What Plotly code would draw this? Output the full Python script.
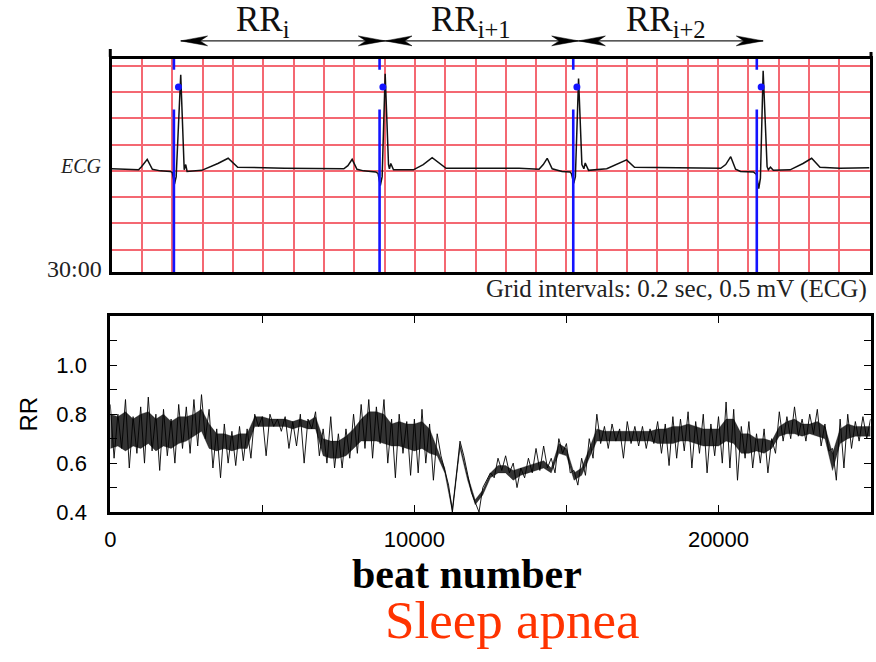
import plotly.graph_objects as go

# ---------------- Top panel: ECG strip ----------------
ecg_time_s = [0.000, 0.177, 0.196, 0.234, 0.268, 0.321, 0.386, 0.399, 0.414, 0.425,
              0.455, 0.473, 0.478, 0.488, 0.497, 0.594, 0.700, 0.768, 0.831, 1.139,
              1.531, 1.558, 1.586, 1.618, 1.662, 1.741, 1.757, 1.772, 1.784, 1.804,
              1.826, 1.832, 1.841, 1.859, 1.990, 2.055, 2.114, 2.206, 2.688, 2.819,
              2.847, 2.873, 2.906, 2.971, 3.024, 3.033, 3.048, 3.059, 3.080, 3.102,
              3.115, 3.124, 3.146, 3.266, 3.344, 3.397, 3.449, 4.018, 4.051, 4.084,
              4.116, 4.149, 4.234, 4.254, 4.269, 4.280, 4.298, 4.324, 4.332, 4.346,
              4.365, 4.476, 4.561, 4.618, 4.673, 4.804, 5.000]
ecg_mv = [0.04, 0.02, 0.08, 0.22, 0.03, 0.00, -0.01, -0.03, -0.25, -0.11,
          1.83, 0.08, 0.02, 0.12, -0.01, 0.01, 0.14, 0.24, 0.07, 0.05,
          0.04, 0.10, 0.22, 0.03, 0.00, -0.02, -0.05, -0.28, -0.11, 1.85,
          0.12, 0.04, 0.14, 0.02, 0.02, 0.12, 0.25, 0.05, 0.05, 0.03,
          0.12, 0.24, 0.04, -0.01, -0.02, -0.05, -0.24, -0.11, 1.76, 0.12,
          0.04, 0.15, 0.01, 0.04, 0.14, 0.21, 0.07, 0.05, 0.12, 0.27,
          0.03, -0.01, -0.02, -0.07, -0.34, -0.14, 1.91, 0.08, 0.02, 0.07,
          0.01, 0.02, 0.14, 0.24, 0.07, 0.05, 0.06]
r_peak_time_s = [0.455, 1.804, 3.080, 4.298]
detect_line_time_s = [0.410, 1.767, 3.045, 4.256]
detect_dot_time_s = [0.440, 1.789, 3.069, 4.285]
detect_dot_mv = [1.60, 1.60, 1.60, 1.60]
rr_labels = ["RR<sub>i</sub>", "RR<sub>i+1</sub>", "RR<sub>i+2</sub>"]
rr_label_time_s = [1.00, 2.37, 3.66]

# ---------------- Bottom panel: RR tachogram ----------------
beat_step = 125
rr_values = [
    0.84, 0.62, 0.80, 0.66, 0.86, 0.58, 0.79, 0.64, 0.83, 0.60, 0.87, 0.65, 0.80, 0.57, 0.82, 0.63, 0.78, 0.60, 0.84, 0.66,
    0.83, 0.64, 0.86, 0.67, 0.88, 0.70, 0.82, 0.58, 0.74, 0.54, 0.76, 0.60, 0.73, 0.59, 0.75, 0.61, 0.74, 0.62, 0.80, 0.75,
    0.79, 0.63, 0.80, 0.75, 0.78, 0.73, 0.79, 0.66, 0.77, 0.67, 0.80, 0.60, 0.78, 0.74, 0.81, 0.63, 0.74, 0.60, 0.79, 0.58,
    0.72, 0.58, 0.74, 0.62, 0.80, 0.64, 0.84, 0.66, 0.86, 0.62, 0.83, 0.68, 0.86, 0.60, 0.78, 0.54, 0.80, 0.64, 0.77, 0.55,
    0.78, 0.56, 0.82, 0.60, 0.76, 0.53, 0.72, 0.63, 0.57, 0.51, 0.40, 0.55, 0.69, 0.63, 0.56, 0.48, 0.44, 0.40, 0.50, 0.53,
    0.56, 0.54, 0.62, 0.57, 0.63, 0.56, 0.60, 0.50, 0.58, 0.54, 0.62, 0.56, 0.66, 0.57, 0.67, 0.58, 0.62, 0.56, 0.70, 0.64,
    0.68, 0.56, 0.57, 0.51, 0.62, 0.55, 0.70, 0.62, 0.80, 0.68, 0.75, 0.66, 0.76, 0.69, 0.74, 0.62, 0.77, 0.68, 0.75, 0.67,
    0.75, 0.66, 0.74, 0.68, 0.77, 0.64, 0.76, 0.59, 0.79, 0.62, 0.78, 0.65, 0.81, 0.58, 0.77, 0.64, 0.80, 0.56, 0.76, 0.63,
    0.79, 0.60, 0.85, 0.58, 0.82, 0.53, 0.75, 0.62, 0.77, 0.58, 0.72, 0.60, 0.74, 0.56, 0.70, 0.64, 0.81, 0.69, 0.79, 0.70,
    0.83, 0.71, 0.78, 0.69, 0.80, 0.72, 0.82, 0.67, 0.76, 0.65, 0.66, 0.53, 0.78, 0.58, 0.80, 0.66, 0.77, 0.69, 0.79, 0.70,
    0.78,
]
beat_number = [i * beat_step for i in range(len(rr_values))]

# dense core of the RR band (every 250 beats)
core_step = 250
rr_core_hi = [
    0.80, 0.79, 0.81, 0.78, 0.80, 0.81, 0.78, 0.80, 0.77, 0.79,
    0.79, 0.80, 0.82, 0.76, 0.72, 0.72, 0.71, 0.72, 0.72, 0.79,
    0.79, 0.78, 0.78, 0.78, 0.77, 0.78, 0.77, 0.79, 0.70, 0.69,
    0.69, 0.71, 0.74, 0.78, 0.81, 0.81, 0.80, 0.76, 0.77, 0.76,
    0.76, 0.77, 0.74, 0.66, 0.58, 0.42, 0.68, 0.55, 0.45, 0.49,
    0.56, 0.59, 0.59, 0.57, 0.58, 0.59, 0.60, 0.61, 0.58, 0.68,
    0.66, 0.56, 0.58, 0.66, 0.74, 0.73, 0.73, 0.73, 0.73, 0.73,
    0.73, 0.73, 0.74, 0.74, 0.75, 0.75, 0.76, 0.75, 0.74, 0.74,
    0.74, 0.78, 0.78, 0.72, 0.72, 0.70, 0.70, 0.69, 0.75, 0.77,
    0.78, 0.76, 0.76, 0.77, 0.75, 0.64, 0.74, 0.76, 0.75, 0.75,
    0.75,
]
rr_core_lo = [
    0.66, 0.67, 0.65, 0.67, 0.66, 0.68, 0.65, 0.67, 0.66, 0.68,
    0.69, 0.71, 0.73, 0.66, 0.65, 0.66, 0.65, 0.66, 0.66, 0.75,
    0.75, 0.75, 0.75, 0.75, 0.74, 0.75, 0.74, 0.74, 0.63, 0.62,
    0.62, 0.63, 0.66, 0.69, 0.69, 0.69, 0.68, 0.67, 0.67, 0.66,
    0.65, 0.66, 0.64, 0.63, 0.56, 0.40, 0.66, 0.53, 0.43, 0.47,
    0.54, 0.56, 0.56, 0.53, 0.55, 0.56, 0.57, 0.58, 0.56, 0.64,
    0.63, 0.53, 0.55, 0.62, 0.69, 0.69, 0.69, 0.69, 0.69, 0.69,
    0.69, 0.69, 0.68, 0.68, 0.68, 0.69, 0.69, 0.68, 0.67, 0.67,
    0.67, 0.69, 0.68, 0.64, 0.64, 0.65, 0.64, 0.66, 0.71, 0.72,
    0.72, 0.71, 0.72, 0.71, 0.70, 0.57, 0.68, 0.70, 0.71, 0.71,
    0.71,
]
core_beat_number = [i * core_step for i in range(len(rr_core_hi))]

x_tick_vals = [0, 10000, 20000]
x_tick_text = ["0", "10000", "20000"]
y_tick_vals = [0.4, 0.6, 0.8, 1.0]
y_tick_text = ["0.4", "0.6", "0.8", "1.0"]

# ---------------- Figure ----------------
W, H = 876, 662
def px_x(p):
    return p / W
def px_y(p):
    return 1 - p / H

ECG_YMIN, ECG_YMAX = -1.935, 2.14
GRID_RED = "rgb(244,104,114)"
BLUE = "rgb(20,20,255)"
SERIF = "Liberation Serif"
SANS = "Liberation Sans"

fig = go.Figure()

fig.add_trace(go.Scatter(x=ecg_time_s, y=ecg_mv, mode="lines",
                         line=dict(color="#111111", width=1.5),
                         xaxis="x", yaxis="y", hoverinfo="skip", showlegend=False))

bx, by = [], []
for t in detect_line_time_s:
    bx += [t, t, None, t, t, None]
    by += [ECG_YMAX, 1.93, None, 1.17, ECG_YMIN, None]
fig.add_trace(go.Scatter(x=bx, y=by, mode="lines", line=dict(color=BLUE, width=2.6),
                         xaxis="x", yaxis="y", hoverinfo="skip", showlegend=False))
fig.add_trace(go.Scatter(x=detect_dot_time_s, y=detect_dot_mv, mode="markers",
                         marker=dict(color=BLUE, size=7),
                         xaxis="x", yaxis="y", hoverinfo="skip", showlegend=False))

fig.add_trace(go.Scatter(x=core_beat_number, y=rr_core_lo, mode="lines",
                         line=dict(color="rgba(0,0,0,0.5)", width=0.6),
                         xaxis="x2", yaxis="y2", hoverinfo="skip", showlegend=False))
fig.add_trace(go.Scatter(x=core_beat_number, y=rr_core_hi, mode="lines", fill="tonexty",
                         fillcolor="rgba(15,15,15,0.85)",
                         line=dict(color="rgba(0,0,0,0.5)", width=0.6),
                         xaxis="x2", yaxis="y2", hoverinfo="skip", showlegend=False))
fig.add_trace(go.Scatter(x=beat_number, y=rr_values, mode="lines",
                         line=dict(color="black", width=0.9),
                         xaxis="x2", yaxis="y2", hoverinfo="skip", showlegend=False))

axis_common = dict(showline=True, linecolor="black", linewidth=3, zeroline=False)

fig.update_layout(
    width=W, height=H, autosize=False,
    margin=dict(l=0, r=0, t=0, b=0),
    paper_bgcolor="white", plot_bgcolor="white",
    showlegend=False,
    xaxis=dict(domain=[px_x(106.5), px_x(869.5)], range=[0, 5], anchor="y",
               showgrid=True, tick0=0, dtick=0.2, gridcolor=GRID_RED, gridwidth=1.8,
               showticklabels=False, ticks="", mirror=True, **axis_common),
    yaxis=dict(domain=[px_y(277.8), px_y(59.8)], range=[ECG_YMIN, ECG_YMAX], anchor="x",
               showgrid=True, tick0=0, dtick=0.5, gridcolor=GRID_RED, gridwidth=1.8,
               showticklabels=False, ticks="", mirror=True, **axis_common),
    xaxis2=dict(domain=[px_x(105), px_x(870.5)], range=[0, 25000], anchor="y2",
                showgrid=False, tickmode="array", tickvals=x_tick_vals, ticktext=x_tick_text,
                ticks="inside", ticklen=7, tickwidth=1, tickcolor="black",
                minor=dict(tickmode="linear", tick0=0, dtick=5000, ticks="inside",
                           ticklen=7, tickwidth=1, tickcolor="black", showgrid=False),
                mirror="allticks", ticklabelstandoff=6,
                tickfont=dict(family=SANS, size=22, color="black"), **axis_common),
    yaxis2=dict(domain=[px_y(522.3), px_y(322.7)], range=[0.4, 1.2], anchor="x2",
                showgrid=False, tickmode="array", tickvals=y_tick_vals, ticktext=y_tick_text,
                ticks="inside", ticklen=7, tickwidth=1, tickcolor="black",
                minor=dict(tickmode="linear", tick0=0.4, dtick=0.1, ticks="inside",
                           ticklen=7, tickwidth=1, tickcolor="black", showgrid=False),
                mirror="allticks", ticklabelstandoff=16,
                tickfont=dict(family=SANS, size=22, color="black"), **axis_common),
)

# RR interval arrows above the ECG strip
arrow_y = px_y(41.7)
head_len = 0.177
head_half = 5.0 / H
shapes = []
for a, b in zip(r_peak_time_s[:-1], r_peak_time_s[1:]):
    shapes.append(dict(type="line", xref="x", yref="paper", x0=a, x1=b, y0=arrow_y, y1=arrow_y,
                       line=dict(color="#222222", width=1.2)))
    shapes.append(dict(type="path", xref="x", yref="paper",
                       path=(f"M{a},{arrow_y} L{a + head_len},{arrow_y + head_half} "
                             f"L{a + 0.72 * head_len},{arrow_y} L{a + head_len},{arrow_y - head_half} Z"),
                       fillcolor="black", line=dict(color="black", width=0.5)))
    shapes.append(dict(type="path", xref="x", yref="paper",
                       path=(f"M{b},{arrow_y} L{b - head_len},{arrow_y + head_half} "
                             f"L{b - 0.72 * head_len},{arrow_y} L{b - head_len},{arrow_y - head_half} Z"),
                       fillcolor="black", line=dict(color="black", width=0.5)))
# short upward extensions of the strip's side borders
shapes.append(dict(type="line", xref="paper", yref="paper", x0=px_x(105), x1=px_x(105),
                   y0=px_y(58), y1=px_y(50), line=dict(color="black", width=3)))
shapes.append(dict(type="line", xref="paper", yref="paper", x0=px_x(871), x1=px_x(871),
                   y0=px_y(58), y1=px_y(53), line=dict(color="black", width=3)))
fig.update_layout(shapes=shapes)

ann = []
for lab, t in zip(rr_labels, rr_label_time_s):
    ann.append(dict(text=lab, xref="x", yref="paper", x=t, y=px_y(22), xanchor="center",
                    yanchor="middle", showarrow=False,
                    font=dict(family=SERIF, size=35, color="#111111")))
ann.append(dict(text="<i>ECG</i>", xref="paper", yref="paper", x=px_x(99), y=px_y(169),
                xanchor="right", yanchor="middle", showarrow=False,
                font=dict(family=SERIF, size=20, color="#222222")))
ann.append(dict(text="30:00", xref="paper", yref="paper", x=px_x(99), y=px_y(274.5),
                xanchor="right", yanchor="middle", showarrow=False,
                font=dict(family=SERIF, size=24, color="#222222")))
ann.append(dict(text="Grid intervals: 0.2 sec, 0.5 mV (ECG)", xref="paper", yref="paper",
                x=px_x(869), y=px_y(295), xanchor="right", yanchor="middle", showarrow=False,
                font=dict(family=SERIF, size=25, color="#222222")))
ann.append(dict(text="RR", xref="paper", yref="paper", x=px_x(23), y=px_y(422),
                xanchor="center", yanchor="middle", textangle=-90, showarrow=False,
                font=dict(family=SANS, size=24, color="black")))
ann.append(dict(text="<b>beat number</b>", xref="paper", yref="paper", x=px_x(464), y=px_y(585),
                xanchor="center", yanchor="middle", showarrow=False,
                font=dict(family=SERIF, size=42, color="black")))
ann.append(dict(text="Sleep apnea", xref="paper", yref="paper", x=px_x(510), y=px_y(632),
                xanchor="center", yanchor="middle", showarrow=False,
                font=dict(family=SERIF, size=53, color="#FF3300")))
fig.update_layout(annotations=ann)

fig.write_html("out.html", config={"displayModeBar": False},
               post_script="document.body.style.margin='0';document.body.style.overflow='hidden';")
